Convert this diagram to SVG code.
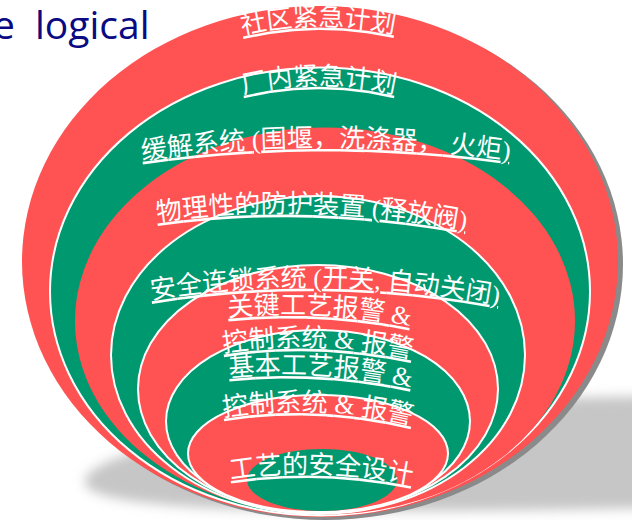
<svg xmlns="http://www.w3.org/2000/svg" width="632" height="520" viewBox="0 0 632 520">
<defs>
<filter id="soft" x="-20%" y="-50%" width="140%" height="200%"><feGaussianBlur stdDeviation="6"/></filter>
<path id="p1" d="M227,38.5 L242,35 Q318,17 395,34 L410,37.2"/>
<path id="p2" d="M228.4,97.5 L243,94 Q318,76 395,94 L409.6,97.4"/>
<path id="p3" d="M127,162 L142,160 Q325,134 510,160 L525,162"/>
<path id="p4" d="M140,224 L155,222 Q300,200 468,230 L483,233"/>
<path id="p5" d="M133,302.5 L148,300 Q322,271 502,305 L517,308"/>
<path id="p6" d="M213,318.5 L228,317 Q318,308 410,326 L425,329"/>
<path id="p7" d="M207,355.5 L222,353 Q312,338 413,359 L428,362"/>
<path id="p8" d="M215,378.5 L230,377 Q318,368 410,387 L425,390"/>
<path id="p9" d="M208,419.4 L223,417 Q315,402 412,425 L427,428.5"/>
<path id="p10" d="M217,481 L232,479 Q318,466 410,484 L425,487"/>
</defs>
<style>
.red{fill:#FF5252}
.grn{fill:#00996F}
.ol{stroke:#FFFFFF;stroke-width:2}
.lbl{font-family:"Liberation Serif","Noto Sans CJK SC",serif;font-size:26px;fill:#FFFFFF;text-decoration:underline}
.title{font-family:"Open Sans",sans-serif;font-size:39px;fill:#0A0A82}
</style>
<rect width="632" height="520" fill="#FFFFFF"/>
<g id="title"><text class="title" y="39"><tspan x="-7">e</tspan><tspan x="35">logical</tspan></text></g>
<g id="shadow">
<path d="M85,482 C85,440 400,402 560,398 L660,396 L660,508 C400,512 85,518 85,482 Z" fill="#C6C6C6" filter="url(#soft)"/>
<ellipse cx="325" cy="264.5" rx="298" ry="255.5" fill="#8A8A8A"/>
</g>
<g id="layers">
<g id="layer-1"><ellipse class="red" cx="320" cy="261.5" rx="298" ry="255.5"/></g>
<g id="layer-2"><ellipse class="grn ol" cx="320" cy="291.5" rx="270" ry="224"/></g>
<g id="layer-3"><ellipse class="red" cx="325" cy="321" rx="250" ry="193.5"/></g>
<g id="layer-4"><ellipse class="grn ol" cx="318" cy="355" rx="207" ry="159"/></g>
<g id="layer-5"><ellipse class="red ol" cx="318" cy="389" rx="180" ry="124"/></g>
<g id="layer-6"><ellipse class="grn ol" cx="318" cy="421.25" rx="152" ry="91.25"/></g>
<g id="layer-7"><ellipse class="red ol" cx="318" cy="453.5" rx="130" ry="58.5"/></g>
<g id="layer-8"><ellipse class="grn" cx="322" cy="480" rx="75" ry="31"/></g>
</g>
<g id="labels">
<g id="label-1"><text class="lbl" style="font-size:25.5px"><textPath href="#p1" startOffset="50%" text-anchor="middle">社区紧急计划</textPath></text></g>
<g id="label-2"><text class="lbl" style="font-size:25.5px"><textPath href="#p2" startOffset="50%" text-anchor="middle">厂内紧急计划</textPath></text></g>
<g id="label-3"><text class="lbl"><textPath href="#p3" startOffset="50%" text-anchor="middle">缓解系统 (围堰，洗涤器， 火炬)</textPath></text></g>
<g id="label-4"><text class="lbl"><textPath href="#p4" startOffset="50%" text-anchor="middle">物理性的防护装置 (释放阀)</textPath></text></g>
<g id="label-5"><text class="lbl"><textPath href="#p5" startOffset="50%" text-anchor="middle">安全连锁系统 (开关, 自动关闭)</textPath></text></g>
<g id="label-6"><text class="lbl"><textPath href="#p6" startOffset="50%" text-anchor="middle">关键工艺报警 &amp;</textPath></text></g>
<g id="label-7"><text class="lbl"><textPath href="#p7" startOffset="50%" text-anchor="middle">控制系统 &amp; 报警</textPath></text></g>
<g id="label-8"><text class="lbl"><textPath href="#p8" startOffset="50%" text-anchor="middle">基本工艺报警 &amp;</textPath></text></g>
<g id="label-9"><text class="lbl"><textPath href="#p9" startOffset="50%" text-anchor="middle">控制系统 &amp; 报警</textPath></text></g>
<g id="label-10"><text class="lbl"><textPath href="#p10" startOffset="50%" text-anchor="middle">工艺的安全设计</textPath></text></g>
</g>
</svg>
